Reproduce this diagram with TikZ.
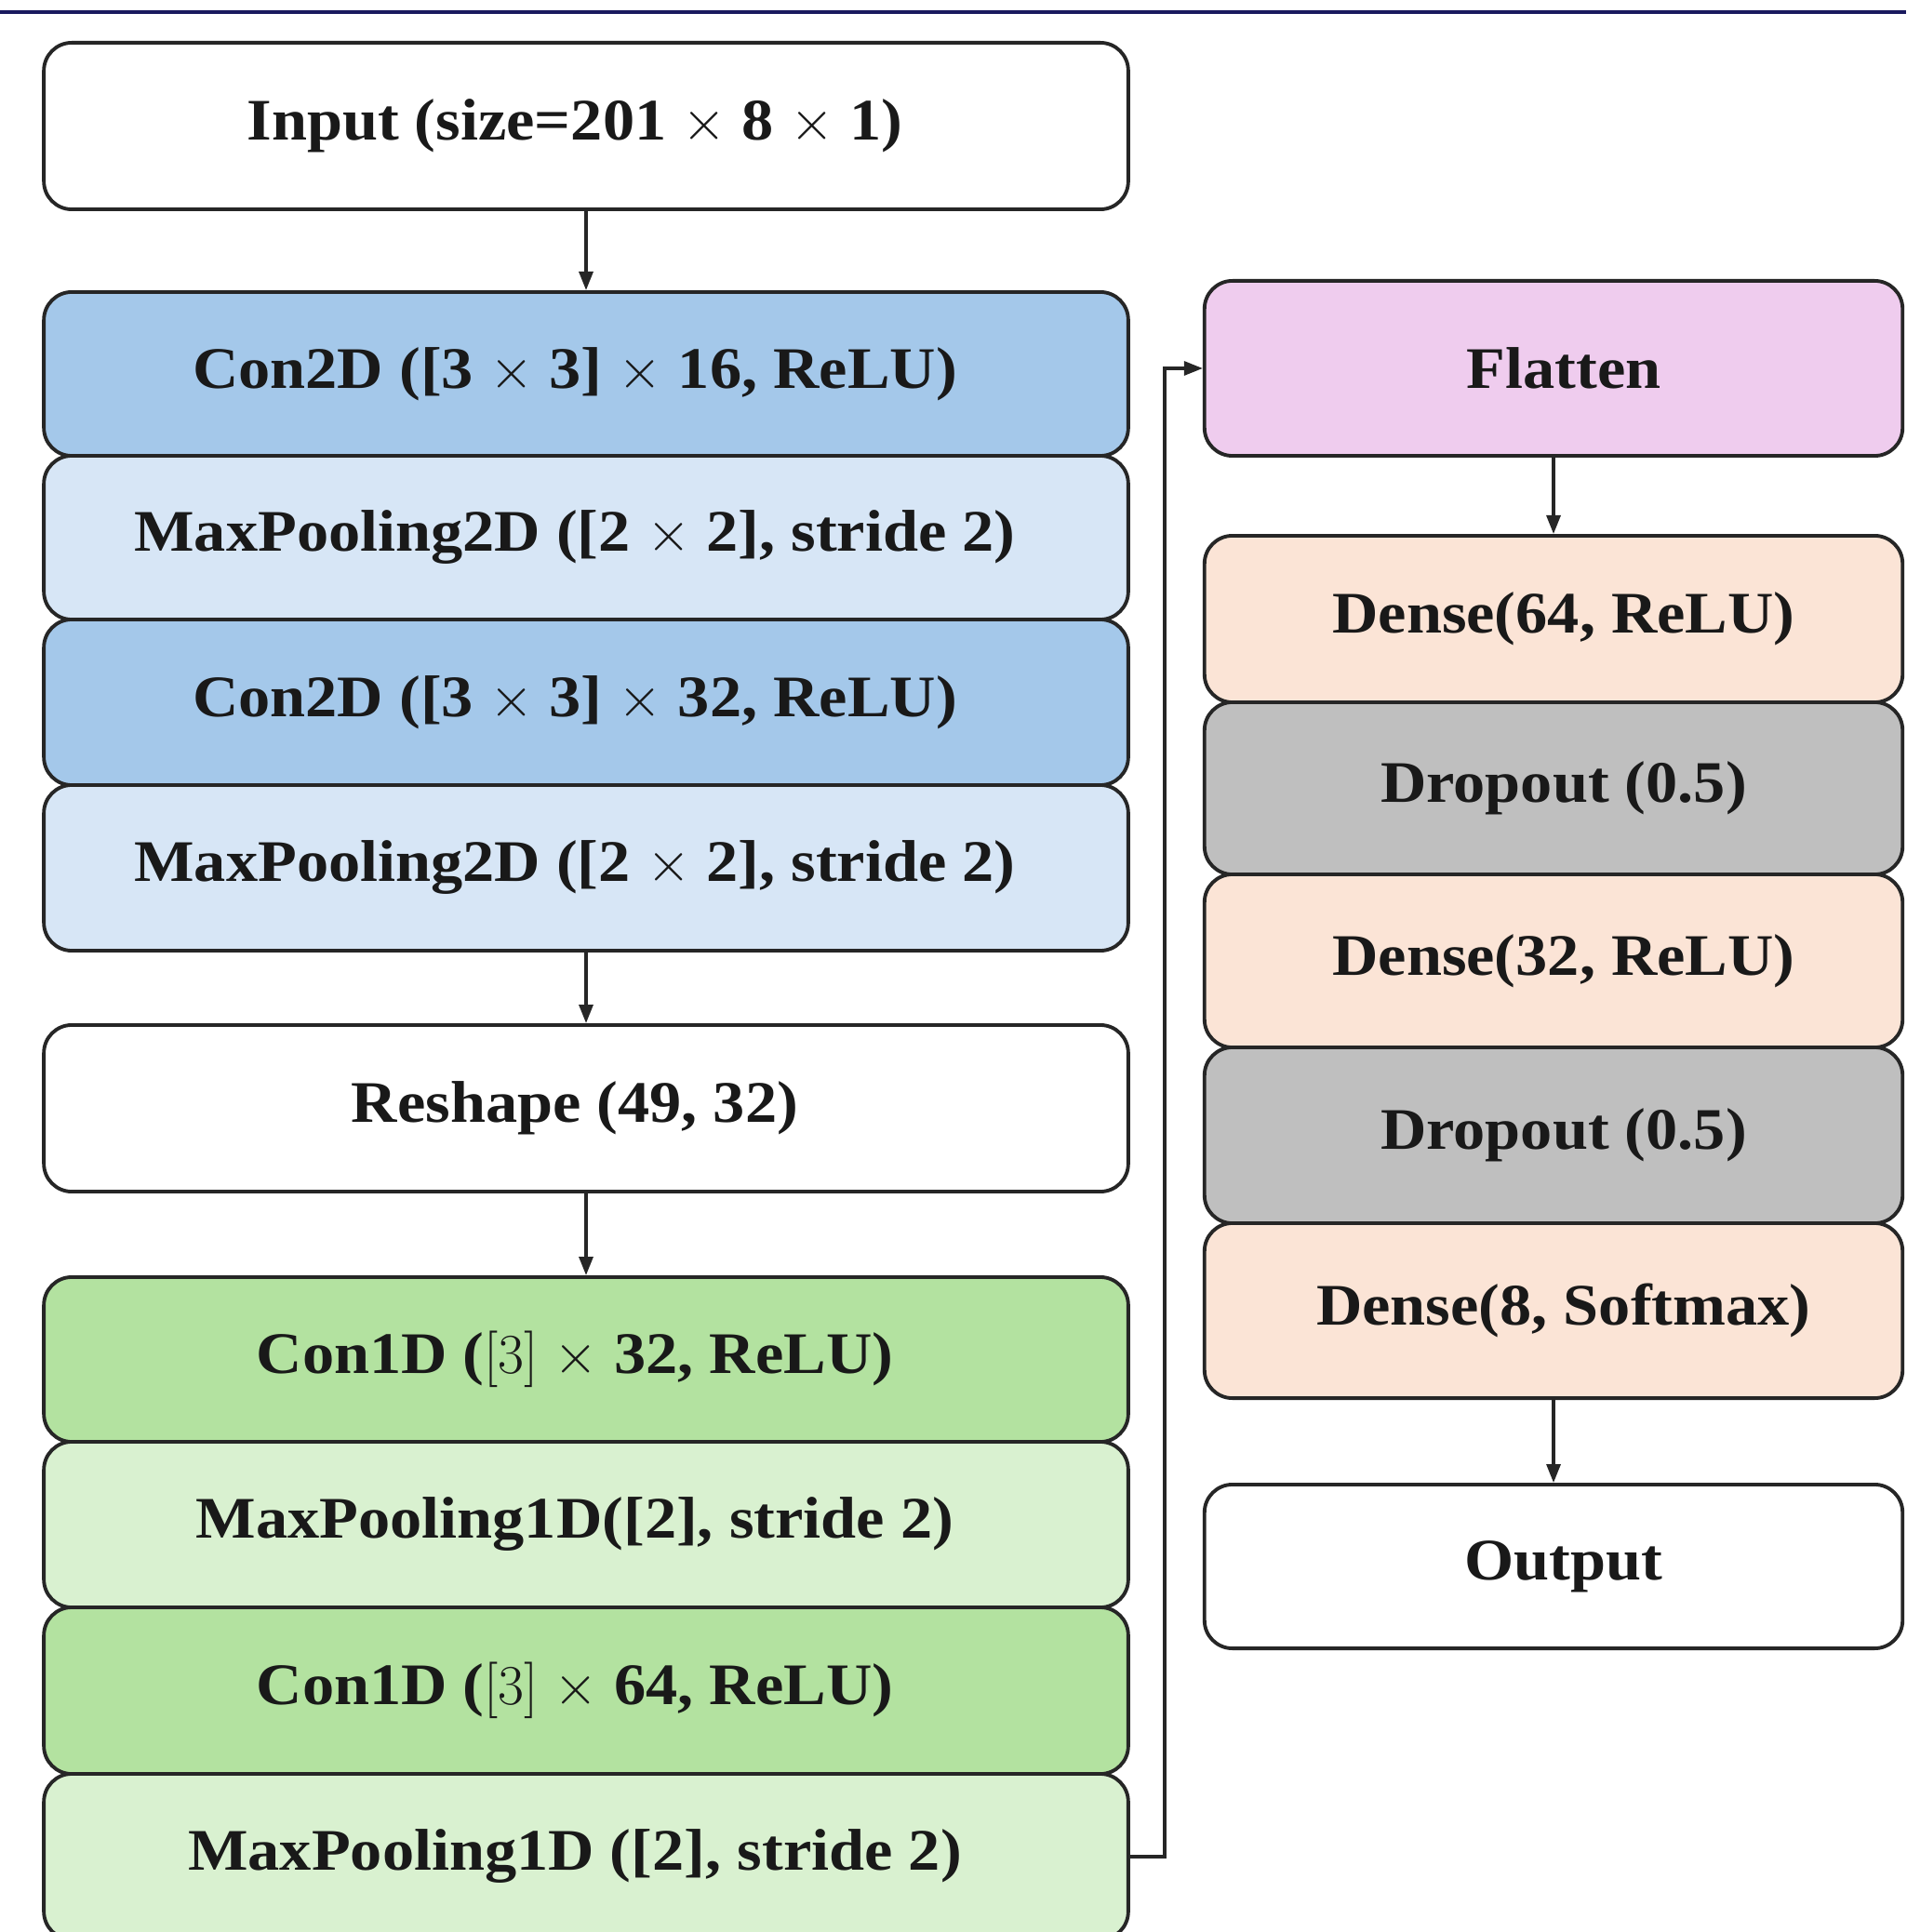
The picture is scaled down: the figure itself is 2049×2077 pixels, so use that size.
\documentclass[tikz,border=0pt]{standalone}
\usepackage{fontspec}
\setmainfont{Liberation Serif}[FakeStretch=1.08]
\usetikzlibrary{arrows.meta}
\definecolor{convtwo}{HTML}{A4C8EA}
\definecolor{pooltwo}{HTML}{D7E6F6}
\definecolor{convone}{HTML}{B3E2A0}
\definecolor{poolone}{HTML}{D9F1D0}
\definecolor{flatcol}{HTML}{EFCCEE}
\definecolor{densecol}{HTML}{FBE4D6}
\definecolor{dropcol}{HTML}{BFBFBF}
\definecolor{navyline}{HTML}{1A1A5E}
\newcommand{\tms}{\ensuremath{\times}}
\begin{document}
\begin{tikzpicture}[x=0.01cm,y=-0.01cm,
  layer/.style={draw=black!85, line width=1.1pt, rounded corners=0.3cm,
    inner sep=0pt, font=\bfseries\fontsize{18}{21}\selectfont, text=black!90},
  leftbox/.style={layer, minimum width=11.65cm, execute at begin node={\hspace*{-0.24cm}}},
  rightbox/.style={layer, minimum width=7.5cm, execute at begin node={\hspace*{0.22cm}}},
  flow/.style={line width=0.9pt, draw=black!85, -{Triangle[length=0.2cm,width=0.15cm]}}]
\useasboundingbox (0,0) rectangle (2049,2077);
\clip (0,0) rectangle (2049,2077);
\fill[white] (0,0) rectangle (2049,2077);
\draw[navyline, line width=1.2pt] (0,13) -- (2049,13);
% left column
\node[leftbox, fill=white, minimum height=1.79cm] (inp) at (630,135.5) {Input (size=201 \tms{} 8 \tms{} 1)};
\node[leftbox, fill=convtwo, minimum height=1.76cm] (c2a) at (630,402) {Con2D ([3 \tms{} 3] \tms{} 16, ReLU)};
\node[leftbox, fill=pooltwo, minimum height=1.76cm] (p2a) at (630,578) {MaxPooling2D ([2 \tms{} 2], stride 2)};
\node[leftbox, fill=convtwo, minimum height=1.78cm] (c2b) at (630,755) {Con2D ([3 \tms{} 3] \tms{} 32, ReLU)};
\node[leftbox, fill=pooltwo, minimum height=1.78cm] (p2b) at (630,933) {MaxPooling2D ([2 \tms{} 2], stride 2)};
\node[leftbox, fill=white, minimum height=1.79cm] (resh) at (630,1191.5) {Reshape (49, 32)};
\node[leftbox, fill=convone, minimum height=1.77cm] (c1a) at (630,1461.5) {Con1D ($[3]$ \tms{} 32, ReLU)};
\node[leftbox, fill=poolone, minimum height=1.78cm] (p1a) at (630,1639) {MaxPooling1D([2], stride 2)};
\node[leftbox, fill=convone, minimum height=1.79cm] (c1b) at (630,1817.5) {Con1D ($[3]$ \tms{} 64, ReLU)};
\node[leftbox, fill=poolone, minimum height=1.78cm] (p1b) at (630,1996) {MaxPooling1D ([2], stride 2)};
% right column
\node[rightbox, fill=flatcol, minimum height=1.88cm] (flat) at (1670,396) {Flatten};
\node[rightbox, fill=densecol, minimum height=1.79cm] (d64) at (1670,665.5) {Dense(64, ReLU)};
\node[rightbox, fill=dropcol, minimum height=1.85cm] (dr1) at (1670,847.5) {Dropout (0.5)};
\node[rightbox, fill=densecol, minimum height=1.86cm] (d32) at (1670,1033) {Dense(32, ReLU)};
\node[rightbox, fill=dropcol, minimum height=1.89cm] (dr2) at (1670,1220.5) {Dropout (0.5)};
\node[rightbox, fill=densecol, minimum height=1.88cm] (d8) at (1670,1409) {Dense(8, Softmax)};
\node[rightbox, fill=white, minimum height=1.76cm] (outp) at (1670,1684) {Output};
% connectors
\draw[flow] (inp.south) -- (c2a.north);
\draw[flow] (p2b.south) -- (resh.north);
\draw[flow] (resh.south) -- (c1a.north);
\coordinate (bend) at (1252,1996);
\draw[flow] (p1b.east) -- (bend) |- (flat.west);
\draw[flow] (flat.south) -- (d64.north);
\draw[flow] (d8.south) -- (outp.north);
\end{tikzpicture}
\end{document}
